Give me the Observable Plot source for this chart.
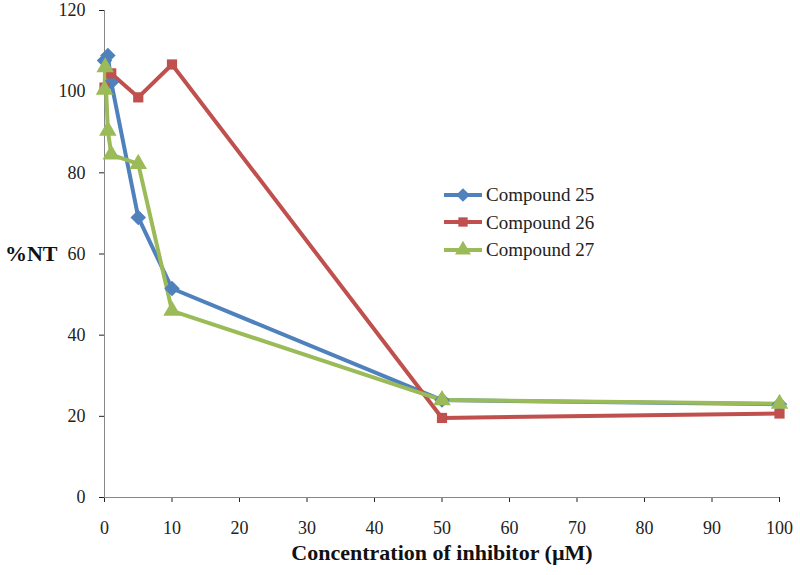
<!DOCTYPE html>
<html><head><meta charset="utf-8">
<script src="https://cdn.jsdelivr.net/npm/d3@7"></script>
<script src="https://cdn.jsdelivr.net/npm/@observablehq/plot@0.6"></script>
<style>
body{margin:0;background:#fff}
#wrap{position:relative;width:800px;height:575px;font-family:"Liberation Serif",serif}
#legend{position:absolute;left:443px;top:181px;font-size:19px;color:#222;line-height:27.5px}
#legend .row{display:flex;align-items:center;height:27.5px}
#legend svg{margin-right:3px}
</style>
</head><body><div id="wrap"><div id="legend"></div></div>
<script>
const seriesNames = ["Compound 25", "Compound 26", "Compound 27"];
const seriesColors = ["#4f81bd", "#c0504d", "#9bbb59"];
const seriesSymbols = ["diamond2", "square2", "triangle"];

const conc25 = [0, 0.5, 1, 5, 10, 50, 100];
const nt25   = [107.7, 108.9, 102.3, 69, 51.5, 24, 23];

const conc26 = [0, 1, 5, 10, 50, 100];
const nt26   = [101, 104.5, 98.6, 106.7, 19.6, 20.7];

const conc27 = [0, 0.1, 0.5, 1, 5, 10, 50, 100];
const nt27   = [100.5, 106, 90.4, 84.5, 82.2, 46, 24, 23.1];

const xTicks = [0, 10, 20, 30, 40, 50, 60, 70, 80, 90, 100];
const yTicks = [0, 20, 40, 60, 80, 100, 120];

const data = [];
[[conc25, nt25], [conc26, nt26], [conc27, nt27]].forEach(([xs, ys], i) => {
  xs.forEach((x, j) => data.push({series: seriesNames[i], x, y: ys[j]}));
});

const chart = Plot.plot({
  width: 800, height: 575,
  marginLeft: 104, marginRight: 21, marginTop: 10, marginBottom: 78,
  style: {fontFamily: "Liberation Serif, serif", fontSize: "18px", color: "#222", background: "#fff"},
  x: {domain: [0, 100], ticks: xTicks, tickSize: 5, tickPadding: 19, label: null},
  y: {domain: [0, 120], ticks: yTicks, tickSize: 5, tickPadding: 14, label: null},
  color: {domain: seriesNames, range: seriesColors},
  symbol: {domain: seriesNames, range: seriesSymbols},
  marks: [
    Plot.ruleX([0], {stroke: "#888", strokeWidth: 1}),
    Plot.ruleY([0], {stroke: "#888", strokeWidth: 1}),
    ...seriesNames.map((name, i) => Plot.line(data.filter(d => d.series === name), {
      x: "x", y: "y", stroke: "series", strokeWidth: 4, strokeLinejoin: "round"
    })),
    ...seriesNames.map((name, i) => Plot.dot(data.filter(d => d.series === name), {
      x: "x", y: "y", fill: "series", symbol: "series", r: i === 0 ? 7 : 6.5, stroke: "none"
    })),
    Plot.text(["%NT"], {frameAnchor: "left", dx: -47, textAnchor: "end", fontWeight: "bold", fontSize: 22, fill: "#111"}),
    Plot.text(["Concentration of inhibitor (\u00b5M)"], {frameAnchor: "bottom", dy: 62, fontWeight: "bold", fontSize: 22, fill: "#111"})
  ]
});
document.getElementById("wrap").prepend(chart);

// legend
const legend = document.getElementById("legend");
seriesNames.forEach((name, i) => {
  const row = document.createElement("div");
  row.className = "row";
  const s = d3.create("svg").attr("width", 40).attr("height", 20);
  s.append("line").attr("x1", 1).attr("x2", 39).attr("y1", 10).attr("y2", 10)
    .attr("stroke", seriesColors[i]).attr("stroke-width", 4);
  const sym = [d3.symbolDiamond2, d3.symbolSquare2, d3.symbolTriangle][i];
  s.append("path").attr("d", d3.symbol(sym, i === 0 ? 120 : 110)()).attr("transform", "translate(20,10)")
    .attr("fill", seriesColors[i]);
  row.appendChild(s.node());
  const t = document.createElement("span");
  t.textContent = name;
  row.appendChild(t);
  legend.appendChild(row);
});
</script>
</body></html>
